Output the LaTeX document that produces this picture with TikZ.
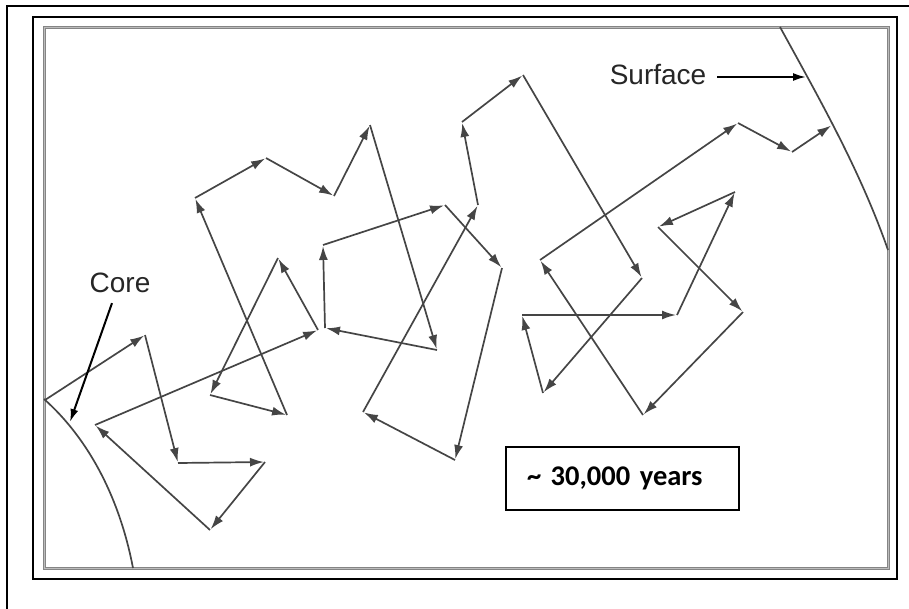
\documentclass[tikz,border=0pt]{standalone}
\usepackage{fontspec}
\usetikzlibrary{arrows.meta}
\newfontfamily\labelfont{Liberation Sans}
\newfontfamily\boxfont{Carlito}
\definecolor{walkC}{HTML}{454545}
\definecolor{frameC}{HTML}{858585}

\begin{document}
\begin{tikzpicture}[x=1pt, y=-1pt,
    walk/.style={walkC, line width=1.7pt, -{Latex[length=14pt, width=9pt]}, shorten >=1pt},
    pointer/.style={black, line width=2pt, -{Latex[length=13pt, width=8pt]}},
    lbl/.style={font=\labelfont\fontsize{28}{30}\selectfont, text=black!85, inner sep=0pt},
]
\useasboundingbox (0,0) rectangle (909,608);

% Frames
\draw[line width=2.2pt] (7,612) -- (7,6) -- (913,6);
\draw[line width=2.2pt] (33,17) rectangle (897,579);
\draw[frameC, line width=3pt] (44,27) rectangle (888,568);
\draw[white!45!frameC, line width=0.7pt] (44,27) rectangle (888,568);

% Core and surface
\draw[walkC, line width=1.7pt] (44,399) .. controls (90,440) and (120,500) .. (133,568);
\draw[walkC, line width=1.7pt] (780,27) .. controls (820,100) and (860,170) .. (888,250);

% Random walk of the photon
\foreach \i/\x/\y in {0/45/400, 1/145/335, 2/178/463, 3/265/462, 4/210/530,
    5/95/425, 6/318/330, 7/278/258, 8/210/395, 9/287/415, 10/195/198,
    11/266/158, 12/334/196, 13/370/125, 14/437/350, 15/325/328, 16/323/245,
    17/445/205, 18/502/268, 19/455/460, 20/363/412, 21/478/205, 22/462/122,
    23/523/75, 24/642/278, 25/543/393, 26/522/315, 27/677/315, 28/735/192,
    29/658/227, 30/743/312, 31/643/415, 32/540/260, 33/738/123, 34/792/152,
    35/832/125}
    \coordinate (w\i) at (\x,\y);
\foreach \i [count=\j] in {0,...,34}
    \draw[walk] (w\i) -- (w\j);

% Labels
\node[lbl] (core) at (120,283) {Core};
\coordinate (coreHit) at (70,422);
\draw[pointer] ([xshift=-8pt, yshift=-10pt]core.south) -- (coreHit);

\node[lbl] (surf) at (658,75) {Surface};
\coordinate (surfHit) at (806,77);
\draw[pointer] ([xshift=11pt, yshift=-2pt]surf.east) -- (surfHit);

% Time box
\node[draw, line width=1.6pt, minimum width=233pt, minimum height=63pt,
    inner xsep=21pt, text width=191pt, align=left,
    font=\boxfont\bfseries\fontsize{28.5}{30}\selectfont] (age)
    at (622.5,478.5) {\textasciitilde\ 30,000 years};

\end{tikzpicture}
\end{document}
